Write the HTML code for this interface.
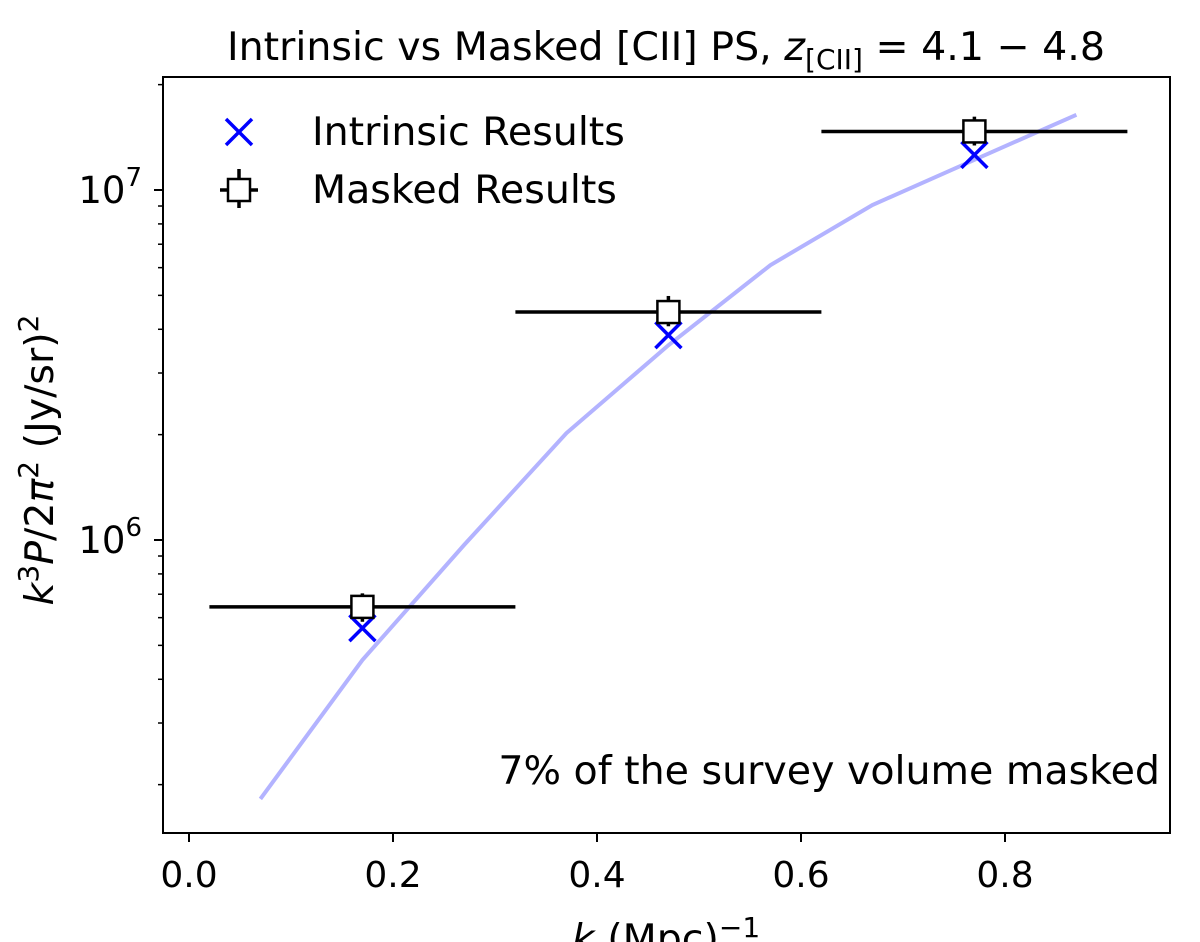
<!DOCTYPE html>
<html><head><meta charset="utf-8"><style>
html,body{margin:0;padding:0;background:#fff;}
svg{display:block;font-family:"DejaVu Sans","Liberation Sans",sans-serif;}
</style></head><body>
<svg id="chart" width="1200" height="942" viewBox="0 0 1200 942">
<text x="666" y="60" font-size="39.5" text-anchor="middle">Intrinsic vs Masked [CII] PS, <tspan font-style="italic">z</tspan><tspan font-size="28" dy="9">[CII]</tspan><tspan dy="-9"> = 4.1 − 4.8</tspan></text>
<g id="axes"></g>
<g id="marks"></g>
<rect x="163" y="77" width="1007" height="756" fill="none" stroke="#000" stroke-width="2"/>
<text x="666" y="952" font-size="39.5" text-anchor="middle"><tspan font-style="italic">k</tspan> (Mpc)<tspan font-size="28" dy="-15">−1</tspan></text>
<text transform="translate(53,460) rotate(-90)" font-size="39.5" text-anchor="middle"><tspan font-style="italic">k</tspan><tspan font-size="28" dy="-15">3</tspan><tspan dy="15" font-style="italic">P</tspan>/2<tspan font-style="italic">π</tspan><tspan font-size="28" dy="-15">2</tspan><tspan dy="15"> (Jy/sr)</tspan><tspan font-size="28" dy="-15">2</tspan></text>
<text x="1160" y="784" font-size="39.5" text-anchor="end">7% of the survey volume masked</text>
<g>
<g>
<path d="M226,119 L252,145 M252,119 L226,145" stroke="#0000ff" stroke-width="3.5"/>
<text x="312" y="145" font-size="39.5">Intrinsic Results</text></g>
<g>
<path d="M220,190 L258,190 M239,169 L239,208" stroke="#000" stroke-width="3.5"/>
<rect x="228" y="179" width="22" height="22" fill="#fff" stroke="#000" stroke-width="2.5"/>
<text x="312" y="203" font-size="39.5">Masked Results</text></g>
</g>
</svg>
<script>
const xTicks=[0.0,0.2,0.4,0.6,0.8];
const xTickLabels=["0.0","0.2","0.4","0.6","0.8"];
const lineK=[0.07,0.17,0.27,0.37,0.47,0.57,0.67,0.77,0.87];
const linePS=[1.82e5,4.54e5,9.7e5,2.02e6,3.6e6,6.1e6,9.06e6,1.22e7,1.64e7];
const binK=[0.17,0.47,0.77];
const intrinsicPS=[5.6e5,3.85e6,1.26e7];
const maskedPS=[6.44e5,4.48e6,1.47e7];
const maskedErrLo=[0.6e5,0.4e6,1.3e6];
const maskedErrHi=[0.6e5,0.5e6,1.5e6];
const binHalfWidth=[0.15,0.15,0.15];

const NS="http://www.w3.org/2000/svg";
function xs(k){return 189+k*1020;}
function ys(v){return 190-(Math.log10(v)-7)*350;}
function mk(tag,attrs,parent){const e=document.createElementNS(NS,tag);for(const a in attrs)e.setAttribute(a,attrs[a]);parent.appendChild(e);return e;}
const axes=document.getElementById('axes'),marks=document.getElementById('marks');
xTicks.forEach((t,i)=>{
 const l=mk('line',{x1:xs(t),x2:xs(t),y1:833,y2:842,stroke:'#000','stroke-width':2},axes);
 
 
 const tx=mk('text',{x:xs(t),y:887,'font-size':36,'text-anchor':'middle'},axes);
 tx.textContent=xTickLabels[i];
 
 
});
for(let d=5;d<=7;d++){for(let m=1;m<=9;m++){
 const v=m*Math.pow(10,d);const y=ys(v);if(y<77||y>833)continue;
 const major=m===1;
 const l=mk('line',{x1:major?154:158,x2:163,y1:y,y2:y,stroke:'#000','stroke-width':major?2:1.5},axes);
 
 
 if(major){const t=mk('text',{x:142,y:y+13,'font-size':37,'text-anchor':'end'},axes);
  t.innerHTML='10<tspan font-size="26" dy="-17">'+d+'</tspan>';
  
  }
}}
const pl=mk('polyline',{points:lineK.map((k,i)=>xs(k)+','+ys(linePS[i])).join(' '),fill:'none',stroke:'#b3b3ff','stroke-width':4},marks);


binK.forEach((k,i)=>{
 const x=xs(k),y=ys(intrinsicPS[i]);
 const p=mk('path',{d:`M${x-13},${y-13}L${x+13},${y+13}M${x+13},${y-13}L${x-13},${y+13}`,stroke:'#0000ff','stroke-width':3.5},marks);
 
 
});
binK.forEach((k,i)=>{
 const x=xs(k),y=ys(maskedPS[i]);
 const g=mk('g',{},marks);
 
 
 mk('line',{x1:xs(k-binHalfWidth[i]),x2:xs(k+binHalfWidth[i]),y1:y,y2:y,stroke:'#000','stroke-width':3.5},g);
 mk('line',{x1:x,x2:x,y1:ys(maskedPS[i]+maskedErrHi[i]),y2:ys(maskedPS[i]-maskedErrLo[i]),stroke:'#000','stroke-width':3.5},g);
 mk('rect',{x:x-11,y:y-11,width:22,height:22,fill:'#fff',stroke:'#000','stroke-width':2.5},g);
});
</script>
</body></html>
